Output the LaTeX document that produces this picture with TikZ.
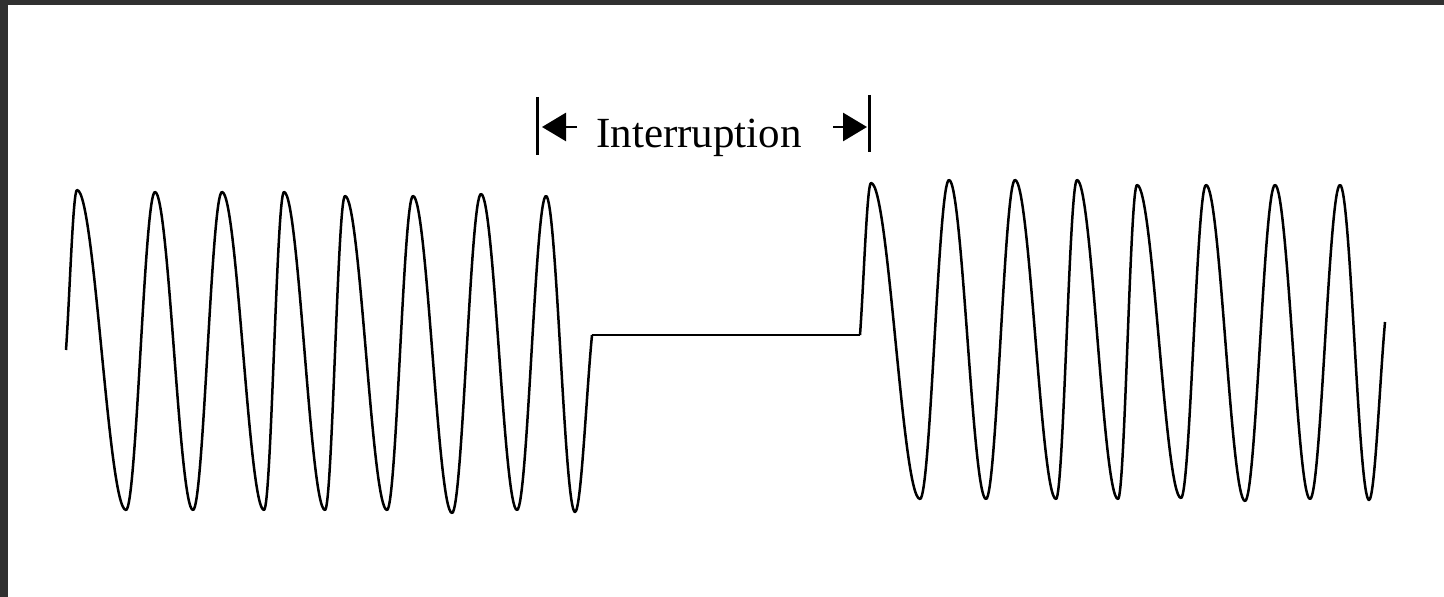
\documentclass[tikz,border=0pt]{standalone}
\usepackage{fontspec}
\setmainfont{Liberation Serif}
\usetikzlibrary{arrows.meta}
\definecolor{frame}{RGB}{48,48,48}
\tikzset{
  wave/.style={line width=1.25pt, black, line join=round},
  bar/.style={line width=1.5pt, black},
  dimarrow/.style={line width=1.4pt, black, -{Triangle[length=12pt,width=14pt]}},
  lbl/.style={font=\fontsize{21.5pt}{24pt}\selectfont, inner sep=0pt, anchor=base}
}
\begin{document}
\begin{tikzpicture}[x=0.5pt,y=-0.5pt]
\useasboundingbox (0,0) rectangle (1444,597);
\fill[frame] (0,0) rectangle (1444,597);
\fill[white] (8,5) rectangle (1444,597);

% interruption marker
\coordinate (lbarT) at (537,97);
\coordinate (lbarB) at (537,155);
\coordinate (rbarT) at (869,95);
\coordinate (rbarB) at (869,152);
\draw[bar] (lbarT) -- (lbarB);
\draw[bar] (rbarT) -- (rbarB);
\coordinate (lstem) at (577,127);
\coordinate (ltip) at (542,127);
\coordinate (rstem) at (833,127);
\coordinate (rtip) at (867,127);
\draw[dimarrow] (lstem) -- (ltip);
\draw[dimarrow] (rstem) -- (rtip);
\node[lbl] (label) at (699,148) {Interruption};

% left wave
\coordinate (ls) at (66,350);
\coordinate (le) at (592,335);
\draw[wave] (ls)
  .. controls (69.7,296.5) and (73.0,190) .. (77,190)
  .. controls +(17.8,0) and +(-17.8,0) .. (126,510)
  .. controls +(10.5,0) and +(-10.5,0) .. (155,192)
  .. controls +(13.8,0) and +(-13.8,0) .. (193,510)
  .. controls +(10.5,0) and +(-10.5,0) .. (222,192)
  .. controls +(15.3,0) and +(-15.3,0) .. (264,510)
  .. controls +(7.3,0) and +(-7.3,0) .. (284,192)
  .. controls +(14.9,0) and +(-14.9,0) .. (325,510)
  .. controls +(7.3,0) and +(-7.3,0) .. (345,196)
  .. controls +(15.3,0) and +(-15.3,0) .. (387,510)
  .. controls +(9.4,0) and +(-9.4,0) .. (413,196)
  .. controls +(14.2,0) and +(-14.2,0) .. (452,513)
  .. controls +(10.5,0) and +(-10.5,0) .. (481,194)
  .. controls +(13.1,0) and +(-13.1,0) .. (517,510)
  .. controls +(10.5,0) and +(-10.5,0) .. (546,196)
  .. controls +(10.5,0) and +(-10.5,0) .. (575,512)
  .. controls (581.1,512) and (586.3,394.2) .. (le);

% flat interruption
\coordinate (rs) at (860,335);
\draw[wave] (le) -- (rs);

% right wave
\coordinate (re) at (1385,322);
\draw[wave] (rs)
  .. controls (863.7,284.2) and (867,183) .. (871,183)
  .. controls +(17.8,0) and +(-17.8,0) .. (920,499)
  .. controls +(10.5,0) and +(-10.5,0) .. (949,180)
  .. controls +(13.4,0) and +(-13.4,0) .. (986,499)
  .. controls +(10.5,0) and +(-10.5,0) .. (1015,180)
  .. controls +(14.9,0) and +(-14.9,0) .. (1056,499)
  .. controls +(7.6,0) and +(-7.6,0) .. (1077,180)
  .. controls +(14.9,0) and +(-14.9,0) .. (1118,499)
  .. controls +(6.9,0) and +(-6.9,0) .. (1137,185)
  .. controls +(16.0,0) and +(-16.0,0) .. (1181,498)
  .. controls +(9.1,0) and +(-9.1,0) .. (1206,185)
  .. controls +(14.2,0) and +(-14.2,0) .. (1245,501)
  .. controls +(10.9,0) and +(-10.9,0) .. (1275,185)
  .. controls +(12.7,0) and +(-12.7,0) .. (1310,499)
  .. controls +(10.9,0) and +(-10.9,0) .. (1340,185)
  .. controls +(10.5,0) and +(-10.5,0) .. (1369,500)
  .. controls (1374.8,500) and (1379.7,381.5) .. (re);
\end{tikzpicture}
\end{document}
